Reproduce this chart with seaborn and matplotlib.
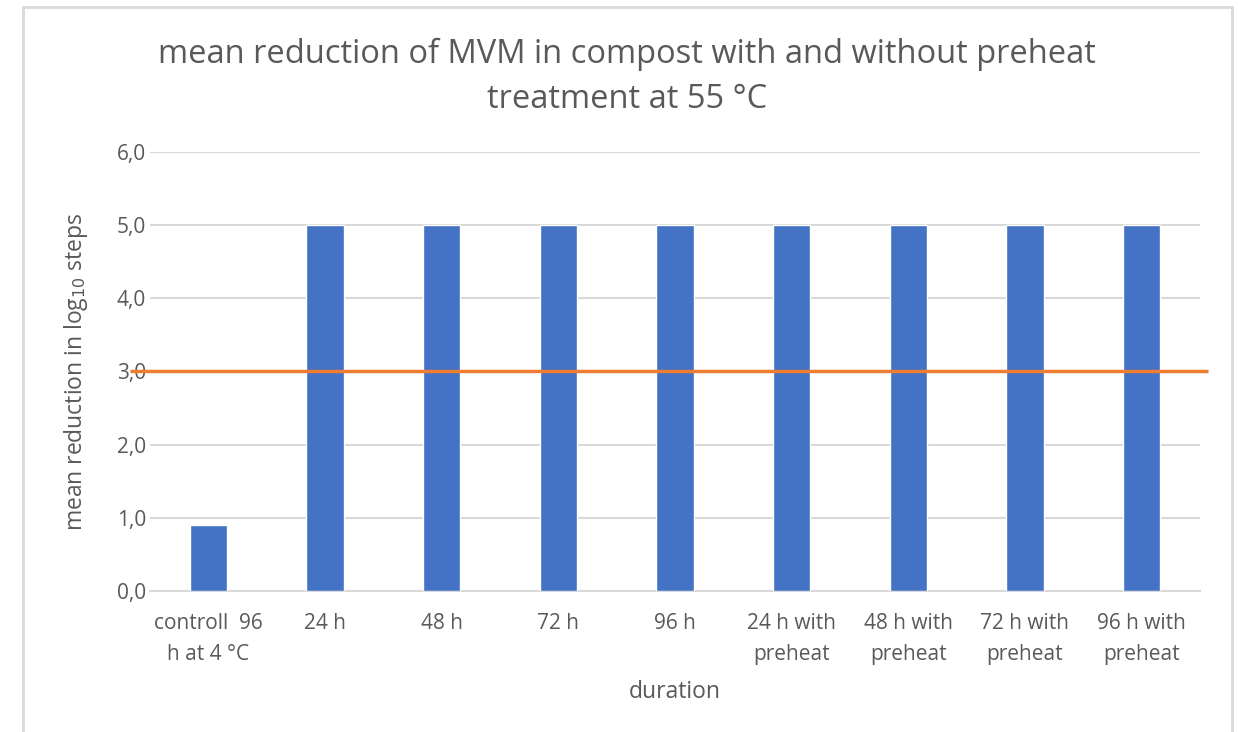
import matplotlib
matplotlib.use("Agg")
import matplotlib.pyplot as plt
import seaborn as sns
import pandas as pd
from matplotlib.patches import Rectangle

categories = ["controll  96\nh at 4 °C", "24 h", "48 h", "72 h", "96 h",
              "24 h with\npreheat", "48 h with\npreheat", "72 h with\npreheat", "96 h with\npreheat"]
values = [0.9, 5.0, 5.0, 5.0, 5.0, 5.0, 5.0, 5.0, 5.0]
threshold = 3.0
yticks = [0, 1, 2, 3, 4, 5, 6]
ytick_labels = ["0,0", "1,0", "2,0", "3,0", "4,0", "5,0", "6,0"]

sns.set_theme(style="white")
plt.rcParams["font.family"] = ["Open Sans", "DejaVu Sans"]

df = pd.DataFrame({"duration": categories, "value": values})

fig = plt.figure(figsize=(12.38, 7.32), dpi=100)
ax = fig.add_axes([150 / 1238, 1 - 591 / 732, 1050 / 1238, (591 - 152) / 732])

txt = "#595959"
sns.barplot(data=df, x="duration", y="value", color="#4472C4", width=0.32,
            saturation=1, ax=ax, zorder=3)

ax.set_ylim(0, 6)
ax.set_xlim(-0.5, len(categories) - 0.5)
ax.set_yticks(yticks)
ax.set_yticklabels(ytick_labels)
ax.yaxis.grid(True, color="#d9d9d9", linewidth=1.5, zorder=0)
ax.xaxis.grid(False)
for s in ["left", "right", "top"]:
    ax.spines[s].set_visible(False)
ax.spines["bottom"].set_color("#d9d9d9")
ax.spines["bottom"].set_linewidth(1.5)
ax.tick_params(axis="both", length=0, colors=txt, labelsize=15)
ax.tick_params(axis="y", pad=3)
ax.tick_params(axis="x", pad=16)
for lab in ax.get_xticklabels():
    lab.set_linespacing(1.6)

ax.set_xlabel("duration", fontsize=16.5, color=txt, labelpad=11)
ax.set_ylabel(r"mean reduction in log$_{10}$ steps", fontsize=16.5, color=txt, labelpad=19)

# threshold line extending slightly beyond plot area
ax.plot([-0.67, len(categories) - 0.43], [threshold, threshold], color="#ED7D31",
        linewidth=2.5, zorder=4, clip_on=False, solid_capstyle="butt")

fig.text(627 / 1238, 1 - 77 / 732,
         "mean reduction of MVM in compost with and without preheat\ntreatment at 55 °C",
         ha="center", va="center", fontsize=23.5, color=txt, linespacing=1.5)

fig.patches.append(Rectangle((23 / 1238, -0.05), (1232 - 23) / 1238, 1.05 - 7 / 732,
                             transform=fig.transFigure, fill=False,
                             edgecolor="#d9d9d9", linewidth=2))

fig.savefig("out.png", dpi=100, facecolor="white")
